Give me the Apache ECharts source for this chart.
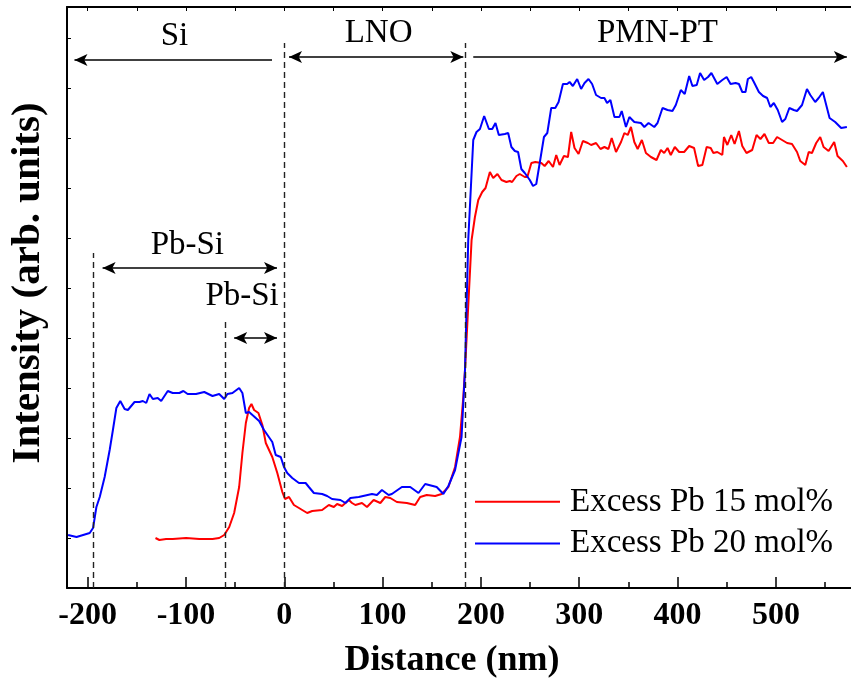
<!DOCTYPE html>
<html>
<head>
<meta charset="utf-8">
<script src="https://cdn.jsdelivr.net/npm/echarts@6/dist/echarts.min.js"></script>
<style>html,body{margin:0;padding:0;background:#fff}#c{width:851px;height:682px}</style>
</head>
<body>
<div id="c"></div>
<script>
// ---- data (distance in nm, intensity in arb. units) ----
const redName = 'Excess Pb 15 mol%';
const blueName = 'Excess Pb 20 mol%';

const redX = [-131.0,-127.0,-120.2,-113.5,-99.9,-86.4,-73.0,-66.2,-61.1,-56.0,
-51.0,-45.9,-42.6,-39.1,-35.8,-33.4,-30.7,-26.3,-22.3,-18.8,
-12.2,-7.1,-2.0,0.7,4.8,9.8,14.9,23.3,28.4,38.5,
45.3,50.4,53.7,58.8,65.6,68.9,72.3,79.0,84.1,90.9,
97.7,102.7,107.8,114.5,124.6,133.1,138.2,144.9,153.4,160.1,
166.9,173.7,178.7,182.1,183.8,190.5,193.9,197.3,201.3,204.7,
209.1,212.5,216.8,220.9,225.9,229.4,231.7,236.1,239.5,244.6,
247.2,251.3,255.3,261.4,264.8,268.9,273.3,276.6,280.0,284.4,
288.5,291.8,295.2,299.3,303.7,308.7,312.1,317.1,321.6,325.6,
329.7,333.0,337.4,342.5,345.9,349.3,352.6,356.0,359.4,363.7,
367.8,372.9,378.6,383.0,386.4,389.8,393.1,397.2,401.6,406.7,
411.8,416.8,420.9,425.2,429.6,433.7,436.4,440.4,445.5,447.2,
450.6,454.6,458.0,462.4,465.8,470.1,475.9,480.3,484.3,488.4,
492.8,497.2,501.2,506.3,511.4,516.4,521.5,524.8,529.9,533.4,
536.7,541.0,545.1,548.5,553.6,559.3,562.7,568.1,572.2];
const redY = [5.0,4.8,4.9,4.9,5.0,4.9,4.9,5.0,5.3,6.1,
7.5,10.1,13.5,16.5,18.0,18.4,17.8,17.5,16.3,14.5,
13.1,11.5,9.6,8.9,9.1,8.3,8.0,7.5,7.7,7.8,
8.3,8.1,8.4,8.2,8.8,8.5,8.3,8.5,8.1,8.8,
8.5,9.1,9.0,8.6,8.5,8.3,9.1,9.3,9.2,9.4,
10.1,12.1,15.1,19.1,21.8,34.8,37.1,38.8,39.6,40.0,
41.6,41.0,41.4,40.8,40.6,40.7,40.6,41.2,41.4,41.1,
41.1,42.5,42.6,42.5,42.2,42.7,42.1,43.3,42.3,43.2,
43.1,45.6,44.0,43.4,44.7,44.5,44.3,44.5,43.9,44.1,
43.9,45.0,43.6,44.6,45.5,45.3,46.1,44.6,43.9,44.8,
43.5,43.1,42.8,43.8,43.5,44.0,43.3,44.1,43.6,43.6,
44.2,44.0,42.2,42.3,44.1,44.0,43.5,43.6,43.3,45.1,
44.3,45.3,44.4,45.7,44.2,43.5,43.8,45.3,44.9,45.4,
44.5,44.5,45.1,44.8,44.5,44.4,43.6,42.7,42.3,43.6,
43.5,44.5,45.1,44.1,43.7,44.6,43.2,42.7,42.1];

const blueX = [-219.9,-211.3,-197.9,-194.5,-191.1,-187.7,-182.7,-177.6,-174.3,-170.8,
-166.8,-162.4,-159.1,-152.3,-147.2,-143.9,-140.4,-137.1,-133.7,-128.7,
-125.2,-118.5,-113.5,-106.7,-102.6,-98.3,-89.8,-81.4,-73.0,-66.2,
-61.1,-57.8,-52.7,-45.9,-42.6,-39.1,-35.8,-29.0,-25.6,-20.6,
-12.2,-8.7,-3.6,-0.3,3.0,8.1,14.9,21.7,25.0,30.1,
38.5,43.6,48.6,57.1,62.2,67.3,75.7,89.2,94.2,99.3,
106.1,109.4,119.6,128.1,136.5,143.3,155.0,161.8,166.9,173.7,
180.3,183.8,187.1,192.2,195.5,199.0,203.3,208.1,211.5,214.8,
218.2,224.3,227.7,231.0,234.5,237.8,241.1,244.6,249.7,253.0,
256.3,259.8,264.1,267.5,271.5,275.6,279.0,283.4,287.7,290.2,
293.5,297.9,301.9,305.4,309.4,313.1,317.1,322.2,325.6,328.3,
331.7,335.8,340.8,343.2,347.5,351.0,356.0,362.7,366.2,370.5,
376.3,379.6,384.7,389.8,394.8,398.2,403.3,407.3,411.8,415.1,
419.5,422.9,427.0,431.0,434.4,440.4,445.5,449.9,453.9,459.0,
462.4,465.8,469.1,471.5,474.9,477.6,482.7,487.0,491.1,494.4,
497.9,501.9,506.3,509.6,513.7,518.2,521.5,526.6,531.6,535.0,
540.0,543.5,547.8,554.6,560.3,566.4,572.2];
const blueY = [5.3,5.1,5.5,6.0,8.1,9.1,11.1,13.8,15.8,18.0,
18.7,17.9,17.8,18.6,18.6,18.7,18.5,19.4,18.9,19.0,
18.7,19.7,19.5,19.5,19.7,19.4,19.4,19.6,19.2,19.4,
18.9,19.4,19.5,20.0,19.5,17.5,17.6,17.0,16.7,15.8,
14.6,13.3,13.1,12.1,11.5,11.0,10.5,10.5,10.1,9.5,
9.4,9.2,8.9,8.8,8.5,9.0,9.1,9.4,9.3,9.8,
9.3,9.4,10.1,10.1,9.5,10.4,10.1,9.4,10.2,11.8,
15.1,21.8,34.8,44.8,45.6,45.9,47.2,45.9,45.9,46.5,
45.3,45.4,45.5,44.1,43.7,43.6,41.9,41.5,40.8,40.2,
40.4,42.5,45.1,45.5,48.0,48.0,48.6,50.4,50.4,50.6,
50.2,50.9,49.9,50.5,50.9,50.4,49.3,49.0,49.0,48.5,
48.8,47.1,47.1,47.7,46.1,47.1,46.6,46.5,46.1,46.5,
46.1,46.5,48.0,47.8,47.7,48.3,49.8,49.4,51.2,50.2,
50.3,51.5,50.8,51.1,51.5,50.4,50.8,51.1,50.4,50.5,
50.4,49.6,49.6,50.9,51.1,50.6,49.6,49.2,49.0,48.1,
48.5,47.8,46.6,46.9,48.0,47.8,47.7,48.3,49.9,49.3,
48.6,49.0,49.6,47.0,46.6,46.0,46.1];

// axis ticks
const majorTicks = [-200,-100,0,100,200,300,400,500];
const minorTicks = [-150,-50,50,150,250,350,450,550];
const topTicks = [-200,-150,-100,-50,0,50,100,150,200,250,300,350,400,450,500,550];

// layer boundaries (dashed lines): x position and top of the line
const boundaryX = [-194.3,-59.9,0,183.8];
const boundaryTop = [33.5,26.8,54.5,54.5];

// region arrows: from x, to x, y, head at start, head at end
const arrowFrom = [-12.5, 4.8, 192.2, -184.8, -51.0];
const arrowTo   = [-213.4, 182.1, 572.2, -7.4, -7.4];
const arrowY    = [52.8, 53.1, 53.1, 32.0, 25.0];
const arrowHeadStart = [false, true, false, true, true];
const arrowHeadEnd   = [true, true, true, true, true];

// region labels
const labelNames = ['Si','LNO','PMN-PT','Pb-Si','Pb-Si'];
const labelX = [-111.7, 95.9, 379.6, -98.6, -42.9];
const labelY = [55.2, 55.5, 55.5, 34.3, 29.2];

// ---- chart ----
const SERIF = "'Liberation Serif','Times New Roman',serif";
const XMIN = -221, XMAX = 576.4, YMIN = 0, YMAX = 58.1;

const chart = echarts.init(document.getElementById('c'), null, {renderer:'canvas'});
const pair = (xs, ys) => xs.map((x,i)=>[x, ys[i]]);

const baseX = {type:'value', min:XMIN, max:XMAX, splitLine:{show:false}, gridIndex:0};

const option = {
  animation:false,
  backgroundColor:'#fff',
  grid:{left:67, right:-3, top:7, bottom:94, containLabel:false},
  xAxis:[
    Object.assign({}, baseX, {
      position:'bottom',
      axisLine:{show:true, onZero:false, lineStyle:{color:'#000', width:2}},
      axisTick:{show:true, inside:true, length:11, customValues:majorTicks, lineStyle:{color:'#000', width:1.5}},
      axisLabel:{show:true, customValues:majorTicks, margin:12, color:'#000', fontFamily:SERIF, fontWeight:'bold', fontSize:32}
    }),
    Object.assign({}, baseX, {
      position:'bottom',
      axisLine:{show:false, onZero:false},
      axisTick:{show:true, inside:true, length:6, customValues:minorTicks, lineStyle:{color:'#000', width:1.5}},
      axisLabel:{show:false}
    }),
    Object.assign({}, baseX, {
      position:'top',
      axisLine:{show:true, onZero:false, lineStyle:{color:'#000', width:2}},
      axisTick:{show:true, inside:true, length:4, customValues:topTicks, lineStyle:{color:'#000', width:1}},
      axisLabel:{show:false}
    })
  ],
  yAxis:[{
    type:'value', min:YMIN, max:YMAX, interval:5, position:'left',
    axisLine:{show:true, onZero:false, lineStyle:{color:'#000', width:2}},
    axisTick:{show:true, inside:true, length:4, lineStyle:{color:'#000', width:1}},
    axisLabel:{show:false},
    splitLine:{show:false}
  }],
  legend:{
    data:[redName, blueName],
    orient:'vertical', left:475, top:481, padding:0, itemGap:0,
    itemWidth:85, itemHeight:2, icon:'rect',
    textStyle:{color:'#000', fontFamily:SERIF, fontSize:33, lineHeight:41.7, padding:[0,0,0,5]}
  },
  graphic:[
    {type:'text', x:452, y:661, style:{text:'Distance (nm)', fill:'#000', font:"bold 36px 'Liberation Serif'", textAlign:'center', textVerticalAlign:'middle'}},
    {type:'text', x:28, y:283, rotation:Math.PI/2, style:{text:'Intensity (arb. units)', fill:'#000', font:"bold 41px 'Liberation Serif'", textAlign:'center', textVerticalAlign:'middle'}}
  ],
  series:[
    {
      name:'boundaries', type:'scatter', xAxisIndex:0, yAxisIndex:0, symbolSize:0, silent:true,
      data:pair(boundaryX, boundaryTop),
      markLine:{
        silent:true, symbol:['none','none'], label:{show:false}, animation:false,
        lineStyle:{color:'#222', width:1.4, type:[6,4], opacity:1},
        data:boundaryX.map((x,i)=>[{coord:[x, YMIN]},{coord:[x, boundaryTop[i]]}])
      }
    },
    {
      name:redName, type:'line', xAxisIndex:0, yAxisIndex:0, showSymbol:false, symbol:'none',
      data:pair(redX, redY), lineStyle:{color:'#ff0000', width:2}, itemStyle:{color:'#ff0000'}, z:3
    },
    {
      name:blueName, type:'line', xAxisIndex:0, yAxisIndex:0, showSymbol:false, symbol:'none',
      data:pair(blueX, blueY), lineStyle:{color:'#0000ff', width:2}, itemStyle:{color:'#0000ff'}, z:4
    },
    {
      name:'regions', type:'scatter', xAxisIndex:0, yAxisIndex:0, symbolSize:0, silent:true,
      itemStyle:{opacity:1},
      data:labelNames.map((n,i)=>[labelX[i], labelY[i], n]),
      label:{show:true, position:'inside', formatter:p=>p.data[2], color:'#000', opacity:1, textBorderWidth:0, fontFamily:SERIF, fontSize:33},
      markLine:{
        silent:true, label:{show:false}, animation:false, symbolSize:[9,13],
        lineStyle:{color:'#000', width:1.5, type:'solid', opacity:1},
        data:arrowFrom.map((x,i)=>[
          {coord:[x, arrowY[i]], symbol:arrowHeadStart[i]?'arrow':'none'},
          {coord:[arrowTo[i], arrowY[i]], symbol:arrowHeadEnd[i]?'arrow':'none'}
        ])
      }
    }
  ]
};
chart.setOption(option);
</script>
</body>
</html>
